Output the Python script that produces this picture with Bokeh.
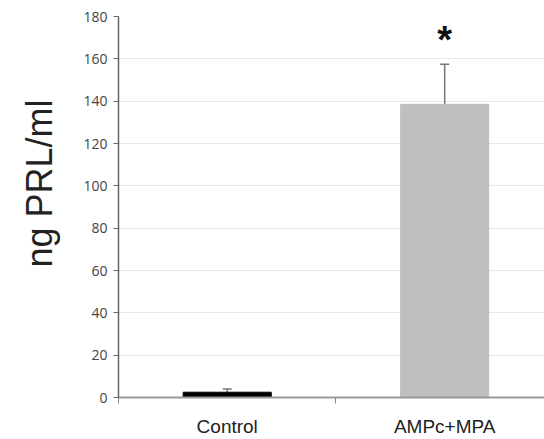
from bokeh.plotting import figure
from bokeh.models import FixedTicker, Range1d, Whisker, ColumnDataSource, TeeHead, Title
from bokeh.core.properties import value
from bokeh.embed import file_html
from bokeh.resources import INLINE

categories = ["Control", "AMPc+MPA"]
means = [2.5, 138.5]
errors = [1.5, 19.0]
colors = ["#000000", "#bfbfbf"]
significance = ["", "*"]
sig_y = [0, 169]
y_ticks = [0, 20, 40, 60, 80, 100, 120, 140, 160, 180]
y_label = "ng PRL/ml"

xs = [i + 0.5 for i in range(len(categories))]
src = ColumnDataSource(dict(
    x=xs, top=means, color=colors,
    upper=[m + e for m, e in zip(means, errors)],
))

p = figure(width=544, height=439, output_backend="svg", toolbar_location=None,
           x_range=Range1d(0, 1.959), y_range=Range1d(0, 180),
           min_border_left=118, min_border_top=16, min_border_right=0,
           min_border_bottom=41)
p.outline_line_color = None
p.background_fill_color = "white"

p.vbar(x="x", top="top", width=0.405, color="color", source=src)

w = Whisker(base="x", lower="top", upper="upper", source=src,
            line_color="#777777", line_width=1.5, lower_head=None,
            upper_head=TeeHead(size=9, line_color="#777777", line_width=1.5))
p.add_layout(w)

p.text(x=[xs[i] for i in range(len(xs)) if significance[i]],
       y=[sig_y[i] for i in range(len(xs)) if significance[i]],
       text=[s for s in significance if s],
       text_font=value("Liberation Sans"), text_font_style="bold",
       text_font_size="38px", text_align="center", text_baseline="alphabetic",
       text_color="#111111")

# y axis label as a left title (allows offset along the axis)
t = Title(text=y_label, align="left", offset=130, standoff=37,
          vertical_align="top",
          text_font="Liberation Sans", text_font_size="36px",
          text_font_style="normal", text_color="#222222")
p.add_layout(t, "left")

# y axis
p.yaxis.ticker = FixedTicker(ticks=y_ticks)
p.yaxis.major_label_text_font = "Open Sans"
p.yaxis.major_label_text_font_size = "14px"
p.yaxis.major_label_text_color = "#444444"
p.yaxis.major_label_standoff = 6
p.yaxis.major_tick_out = 5
p.yaxis.major_tick_in = 0
p.yaxis.minor_tick_line_color = None
p.yaxis.axis_line_color = "#666666"
p.yaxis.major_tick_line_color = "#666666"
p.yaxis.axis_line_width = 1.5

# x axis
p.xaxis.ticker = FixedTicker(ticks=xs, minor_ticks=[float(i) for i in range(len(categories) + 1)])
p.xaxis.major_label_overrides = {x: c for x, c in zip(xs, categories)}
p.xaxis.major_label_text_font = "Liberation Sans"
p.xaxis.major_label_text_font_size = "19px"
p.xaxis.major_label_text_color = "#222222"
p.xaxis.major_label_standoff = 12
p.xaxis.major_tick_out = 0
p.xaxis.major_tick_in = 0
p.xaxis.minor_tick_out = 6
p.xaxis.minor_tick_in = 0
p.xaxis.minor_tick_line_color = "#888888"
p.xaxis.axis_line_color = "#999999"
p.xaxis.axis_line_width = 2

p.xgrid.grid_line_color = None
p.ygrid.grid_line_color = "#e8e8e8"
p.ygrid.grid_line_width = 1

open("out.html", "w").write(file_html(p, INLINE))
